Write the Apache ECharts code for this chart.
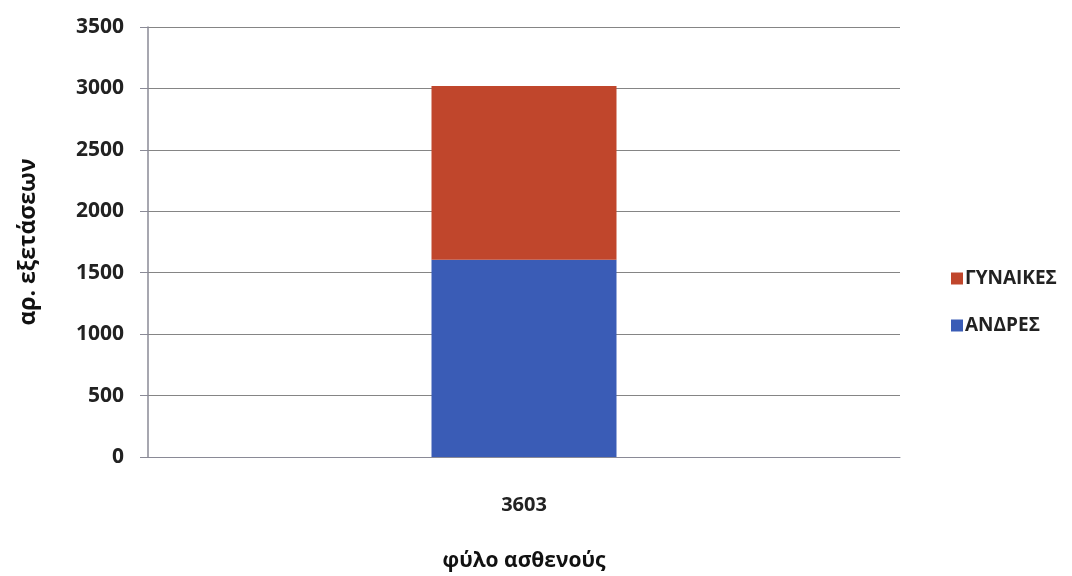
<!DOCTYPE html>
<html>
<head>
<meta charset="utf-8">
<script src="https://cdn.jsdelivr.net/npm/echarts@6/dist/echarts.min.js"></script>
<style>
  html, body { margin: 0; padding: 0; background: #ffffff; }
  #chart { width: 1072px; height: 576px; }
</style>
</head>
<body>
<div id="chart"></div>
<script>
// Examinations by patient sex (stacked)
const categories = ['3603'];
const andres = [1605];     // ΑΝΔΡΕΣ
const gynaikes = [1415];   // ΓΥΝΑΙΚΕΣ
const yTicks = [0, 500, 1000, 1500, 2000, 2500, 3000, 3500];

const font = '"Open Sans", "DejaVu Sans", sans-serif';
const chart = echarts.init(document.getElementById('chart'));

chart.setOption({
  animation: false,
  backgroundColor: '#ffffff',
  grid: { left: 148, right: 172, top: 27, bottom: 119, containLabel: false, outerBoundsMode: 'none' },
  legend: {
    orient: 'vertical',
    left: 946,
    top: 264,
    itemWidth: 12,
    itemHeight: 12,
    itemGap: 28,
    icon: 'rect',
    data: ['ΓΥΝΑΙΚΕΣ', 'ΑΝΔΡΕΣ'],
    textStyle: { fontFamily: font, fontSize: 19, fontWeight: 'bold', color: '#222', padding: [0, 0, 0, -3] }
  },
  xAxis: {
    type: 'category',
    data: categories,
    name: 'φύλο ασθενούς',
    nameLocation: 'middle',
    nameGap: 94,
    nameTextStyle: { fontFamily: font, fontSize: 21, fontWeight: 'bold', color: '#111' },
    axisLine: { show: true, lineStyle: { color: '#8a8a96', width: 1 } },
    axisTick: { show: false },
    axisLabel: { fontFamily: font, fontSize: 20, fontWeight: 'bold', color: '#222', margin: 38 }
  },
  yAxis: {
    type: 'value',
    min: yTicks[0],
    max: yTicks[yTicks.length - 1],
    interval: 500,
    name: 'αρ. εξετάσεων',
    nameLocation: 'middle',
    nameGap: 108,
    nameRotate: 90,
    nameTextStyle: { fontFamily: font, fontSize: 23, fontWeight: 'bold', color: '#111' },
    axisLine: { show: true, lineStyle: { color: '#8a8a96', width: 1.5 } },
    axisTick: { show: true, inside: false, length: 8, lineStyle: { color: '#8a8a96' } },
    axisLabel: {
      fontFamily: font, fontSize: 21, fontWeight: 'bold', color: '#222', margin: 24,
      formatter: (v) => String(v)
    },
    splitLine: { show: true, lineStyle: { color: '#858585', width: 1 } }
  },
  series: [
    {
      name: 'ΑΝΔΡΕΣ',
      type: 'bar',
      stack: 'total',
      data: andres,
      barWidth: 185,
      itemStyle: { color: '#3a5cb6' }
    },
    {
      name: 'ΓΥΝΑΙΚΕΣ',
      type: 'bar',
      stack: 'total',
      data: gynaikes,
      barWidth: 185,
      itemStyle: { color: '#c0462c' }
    }
  ]
});
</script>
</body>
</html>
